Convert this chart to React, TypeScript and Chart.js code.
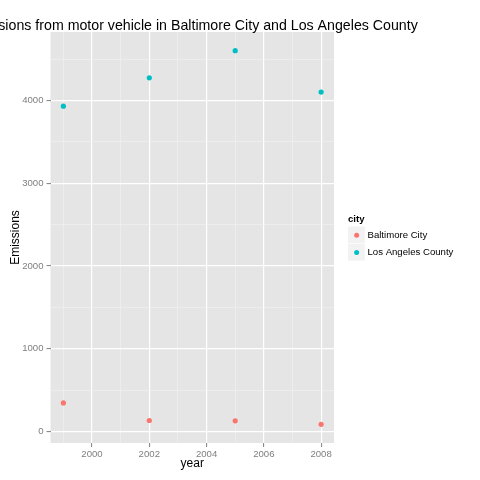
import React, { useEffect, useRef } from "react";
import { Chart, registerables } from "chart.js";

Chart.register(...registerables);

const years = [1999, 2002, 2005, 2008];
const baltimore = [346.82, 134.31, 130.43, 88.28];
const losAngeles = [3931.12, 4274.03, 4601.41, 4101.32];
const seriesNames = ["Baltimore City", "Los Angeles County"];
const seriesColors = ["#F8766D", "#00BFC4"];
const xTicks = [1999, 2000, 2001, 2002, 2003, 2004, 2005, 2006, 2007, 2008];
const yTicks = [0, 500, 1000, 1500, 2000, 2500, 3000, 3500, 4000, 4500];
const titleText = "Emissions from motor vehicle in Baltimore City and Los Angeles County";
const legendTitle = "city";

const FONT = "'Liberation Sans', Arial, Helvetica, sans-serif";

const panelPlugin = {
  id: "panel",
  beforeDraw(chart: any) {
    const { ctx, chartArea } = chart;
    ctx.save();
    ctx.fillStyle = "#E5E5E5";
    ctx.fillRect(chartArea.left, chartArea.top, chartArea.right - chartArea.left, chartArea.bottom - chartArea.top);
    ctx.restore();
  },
  afterDraw(chart: any) {
    const { ctx, chartArea } = chart;
    ctx.save();
    // title
    ctx.fillStyle = "#000000";
    ctx.font = `14.2px ${FONT}`;
    ctx.textAlign = "center";
    ctx.textBaseline = "alphabetic";
    ctx.fillText(titleText, (chartArea.left + chartArea.right) / 2, 29.5);
    // legend
    const lx = 348;
    ctx.font = `bold 9.6px ${FONT}`;
    ctx.textAlign = "left";
    ctx.fillText(legendTitle, lx, 222);
    const boxTop = 226.5;
    const boxSize = 17.3;
    seriesNames.forEach((name, i) => {
      const by = boxTop + i * boxSize;
      ctx.fillStyle = "#F2F2F2";
      ctx.fillRect(lx, by, boxSize - 0.5, boxSize - 0.5);
      ctx.fillStyle = seriesColors[i];
      ctx.beginPath();
      ctx.arc(lx + boxSize / 2, by + boxSize / 2, 2.5, 0, Math.PI * 2);
      ctx.fill();
      ctx.fillStyle = "#000000";
      ctx.font = `9.6px ${FONT}`;
      ctx.textBaseline = "middle";
      ctx.fillText(name, lx + 19.5, by + boxSize / 2);
    });
    ctx.restore();
  },
};

export default function App() {
  const ref = useRef<HTMLCanvasElement | null>(null);
  useEffect(() => {
    if (!ref.current) return;
    const mk = (vals: number[]) => years.map((y, i) => ({ x: y, y: vals[i] }));
    const chart = new Chart(ref.current, {
      type: "scatter",
      data: {
        datasets: [
          {
            label: seriesNames[0],
            data: mk(baltimore),
            backgroundColor: seriesColors[0],
            borderWidth: 0,
            pointRadius: 2.6,
          },
          {
            label: seriesNames[1],
            data: mk(losAngeles),
            backgroundColor: seriesColors[1],
            borderWidth: 0,
            pointRadius: 2.6,
          },
        ],
      },
      plugins: [panelPlugin],
      options: {
        responsive: false,
        animation: false,
        devicePixelRatio: 1,
        layout: { padding: { left: 0, right: 146, top: 32, bottom: 0 } },
        plugins: { legend: { display: false }, title: { display: false }, tooltip: { enabled: false } },
        scales: {
          x: {
            type: "linear",
            min: 1998.55,
            max: 2008.45,
            afterFit: (s: any) => {
              s.height = 37;
            },
            afterBuildTicks: (s: any) => {
              s.ticks = xTicks.map((value) => ({ value }));
            },
            border: { display: false },
            grid: {
              color: (c: any) => (c.tick && c.tick.value % 2 === 0 ? "#FFFFFF" : "#F2F2F2"),
              lineWidth: (c: any) => (c.tick && c.tick.value % 2 === 0 ? 1.2 : 0.6),
              tickColor: (c: any) => (c.tick && c.tick.value % 2 === 0 ? "#7F7F7F" : "rgba(0,0,0,0)"),
              tickLength: 4,
              tickWidth: 1,
            },
            ticks: {
              autoSkip: false,
              maxRotation: 0,
              padding: 2,
              color: "#7F7F7F",
              font: { family: FONT, size: 9.6 },
              callback: (v: any) => (Number(v) % 2 === 0 ? String(v) : ""),
            },
            title: {
              display: true,
              text: "year",
              color: "#000000",
              font: { family: FONT, size: 12 },
              padding: { top: 0, bottom: 8.8 },
            },
          },
          y: {
            type: "linear",
            min: -137.4,
            max: 4827.07,
            afterFit: (s: any) => {
              s.width = 50.5;
            },
            afterBuildTicks: (s: any) => {
              s.ticks = yTicks.map((value) => ({ value }));
            },
            border: { display: false },
            grid: {
              color: (c: any) => (c.tick && c.tick.value % 1000 === 0 ? "#FFFFFF" : "#F2F2F2"),
              lineWidth: (c: any) => (c.tick && c.tick.value % 1000 === 0 ? 1.2 : 0.6),
              tickColor: (c: any) => (c.tick && c.tick.value % 1000 === 0 ? "#7F7F7F" : "rgba(0,0,0,0)"),
              tickLength: 4,
              tickWidth: 1,
            },
            ticks: {
              autoSkip: false,
              padding: 3,
              color: "#7F7F7F",
              font: { family: FONT, size: 9.6 },
              callback: (v: any) => (Number(v) % 1000 === 0 ? String(v) : ""),
            },
            title: {
              display: true,
              text: "Emissions",
              color: "#000000",
              font: { family: FONT, size: 12 },
              padding: { top: 8.3, bottom: 0 },
            },
          },
        },
      },
    } as any);
    return () => chart.destroy();
  }, []);
  return (
    <div style={{ position: "absolute", left: 0, top: 0, width: 480, height: 480, background: "#FFFFFF" }}>
      <canvas ref={ref} width={480} height={480} style={{ display: "block" }} />
    </div>
  );
}
